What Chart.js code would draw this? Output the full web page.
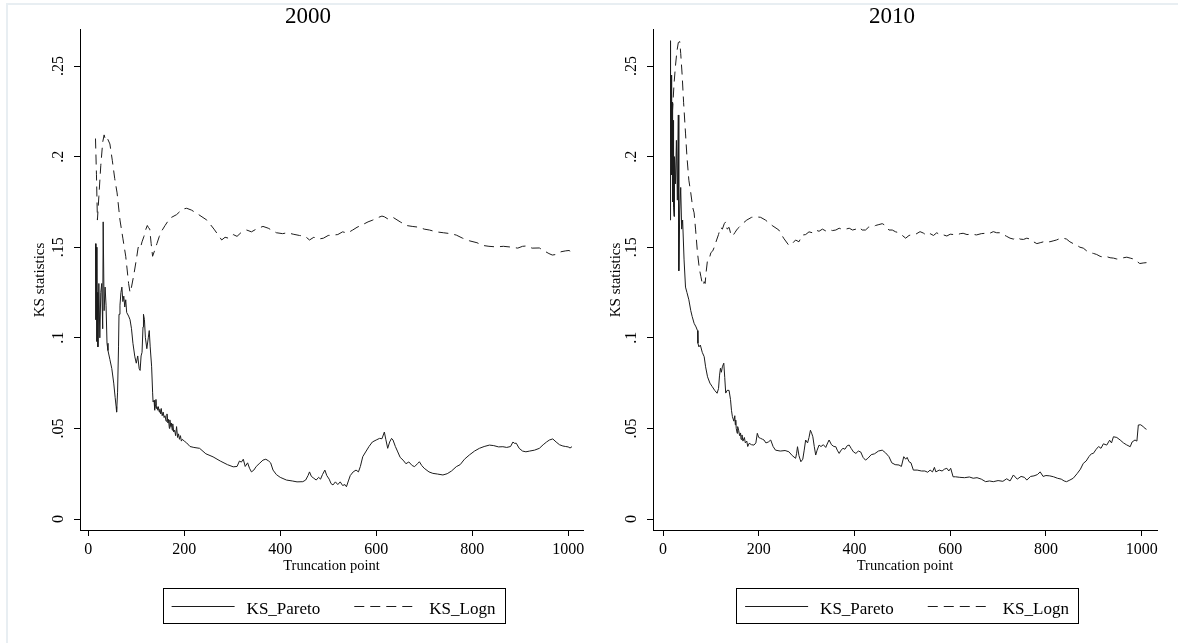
<!DOCTYPE html>
<html><head><meta charset="utf-8">
<script src="https://cdn.jsdelivr.net/npm/chart.js@4.4.1/dist/chart.umd.min.js"></script>
<style>
html,body{margin:0;padding:0;background:#fff;width:1178px;height:643px;overflow:hidden;}
#frame{position:absolute;left:6px;top:3px;width:1172px;height:640px;border-top:2px solid #e8eef2;border-left:2px solid #e8eef2;box-sizing:border-box;}
canvas{position:absolute;top:0;}
#c1{left:0px} #c2{left:589px}
</style></head><body>
<div id="frame"></div>
<canvas id="c1" width="589" height="643"></canvas>
<canvas id="c2" width="589" height="643"></canvas>
<script>
// ---------- data (truncation point, KS statistic) ----------
const panelTitles = ['2000', '2010'];
const seriesNames = ['KS_Pareto', 'KS_Logn'];
const xTicks = [0, 200, 400, 600, 800, 1000];
const xTickLabels = ['0', '200', '400', '600', '800', '1000'];
const yTicks = [0, 0.05, 0.1, 0.15, 0.2, 0.25];
const yTickLabels = ['0', '.05', '.1', '.15', '.2', '.25'];

const pareto2000 = [[15,0.152],[16,0.110],[17,0.150],[18,0.098],[19,0.125],[20,0.095],[22,0.130],[24,0.100],[26,0.125],[28,0.130],[30,0.105],[31,0.164],[33,0.115],[35,0.128],[37,0.118],[39,0.097],[41,0.093],[45,0.088],[49,0.083],[53,0.075],[56,0.067],[58,0.062],[59,0.059],[61,0.070],[63,0.095],[64,0.113],[66,0.118],[68,0.125],[70,0.128],[72,0.120],[74,0.123],[76,0.117],[78,0.121],[80,0.114],[84,0.112],[87,0.110],[90,0.105],[93,0.097],[97,0.0895],[100,0.086],[103,0.090],[106,0.083],[108,0.082],[110,0.090],[112,0.092],[114,0.106],[115,0.113],[117,0.110],[119,0.100],[122,0.094],[125,0.100],[127,0.104],[129,0.095],[132,0.084],[134,0.070],[135,0.0646],[137,0.0655],[138,0.060],[139,0.061],[140,0.063],[141,0.066],[142,0.061],[143,0.062],[145,0.060],[146,0.062],[148,0.059],[149,0.0605],[151,0.058],[152,0.061],[154,0.057],[156,0.059],[158,0.056],[160,0.057],[162,0.054],[164,0.058],[166,0.053],[167,0.055],[169,0.050],[170,0.0547],[172,0.051],[173,0.053],[175,0.049],[176,0.0525],[178,0.048],[180,0.049],[182,0.046],[184,0.051],[186,0.045],[188,0.047],[190,0.044],[192,0.046],[194,0.043],[196,0.044],[200,0.043],[205,0.042],[212,0.040],[220,0.0395],[232,0.039],[245,0.036],[260,0.0343],[275,0.032],[290,0.030],[302,0.0288],[310,0.029],[315,0.032],[319,0.0314],[323,0.033],[327,0.029],[332,0.031],[336,0.028],[340,0.026],[345,0.027],[350,0.029],[356,0.0305],[364,0.0325],[370,0.033],[376,0.032],[380,0.031],[385,0.027],[392,0.0245],[400,0.023],[413,0.0215],[425,0.021],[435,0.0205],[447,0.0206],[453,0.0215],[458,0.024],[461,0.026],[465,0.0235],[470,0.0225],[475,0.0215],[480,0.023],[484,0.022],[488,0.0245],[493,0.027],[497,0.024],[502,0.022],[506,0.0195],[510,0.0188],[515,0.0205],[520,0.019],[525,0.0205],[530,0.0185],[535,0.019],[538,0.0178],[542,0.021],[546,0.024],[552,0.026],[558,0.027],[563,0.026],[567,0.029],[572,0.0344],[578,0.037],[585,0.040],[592,0.0425],[600,0.0436],[607,0.0445],[612,0.0443],[617,0.048],[620,0.044],[624,0.039],[628,0.0425],[632,0.0445],[635,0.0436],[640,0.040],[645,0.037],[650,0.034],[656,0.0325],[662,0.0305],[668,0.0315],[675,0.0295],[680,0.0289],[686,0.0305],[690,0.0316],[695,0.0295],[700,0.028],[710,0.026],[718,0.0252],[728,0.0248],[739,0.0243],[748,0.025],[757,0.0265],[767,0.0289],[775,0.030],[784,0.033],[794,0.0353],[805,0.0375],[815,0.039],[825,0.040],[836,0.0408],[845,0.0405],[855,0.0398],[864,0.0399],[872,0.0395],[880,0.040],[885,0.0425],[888,0.0418],[892,0.0418],[898,0.039],[905,0.0375],[912,0.0371],[920,0.0375],[930,0.038],[940,0.039],[948,0.041],[955,0.0425],[961,0.0436],[968,0.0442],[975,0.0425],[982,0.041],[989,0.0403],[995,0.040],[1000,0.0398],[1004,0.0392],[1008,0.0399]];

const logn2000 = [[15,0.210],[17,0.190],[19,0.165],[22,0.178],[26,0.195],[30,0.208],[33,0.212],[36,0.209],[40,0.210],[45,0.207],[50,0.198],[55,0.188],[60,0.180],[66,0.165],[72,0.155],[78,0.145],[84,0.130],[87,0.125],[90,0.128],[95,0.135],[100,0.143],[104,0.150],[108,0.149],[112,0.153],[116,0.156],[120,0.160],[123,0.162],[125,0.161],[128,0.160],[131,0.152],[134,0.145],[138,0.148],[143,0.152],[148,0.156],[153,0.159],[160,0.162],[170,0.166],[184,0.168],[196,0.171],[205,0.1715],[215,0.1705],[230,0.168],[247,0.165],[262,0.160],[278,0.154],[285,0.1555],[292,0.155],[302,0.157],[310,0.156],[318,0.158],[330,0.1595],[340,0.1585],[350,0.160],[364,0.1615],[375,0.1605],[392,0.158],[405,0.1575],[415,0.158],[427,0.1572],[440,0.1565],[452,0.156],[461,0.154],[470,0.1555],[480,0.1545],[490,0.155],[500,0.1565],[510,0.1567],[520,0.157],[530,0.1585],[540,0.1578],[551,0.1595],[560,0.161],[572,0.1625],[583,0.164],[593,0.165],[605,0.1665],[612,0.1672],[617,0.1668],[625,0.1655],[635,0.1665],[650,0.164],[663,0.162],[675,0.1615],[690,0.161],[700,0.160],[711,0.1595],[725,0.1585],[740,0.158],[755,0.1575],[767,0.1567],[780,0.155],[795,0.1535],[810,0.1525],[822,0.151],[835,0.1505],[850,0.1502],[865,0.1505],[884,0.150],[895,0.1495],[905,0.1505],[913,0.1507],[925,0.1495],[940,0.1496],[950,0.148],[960,0.1465],[967,0.1457],[975,0.146],[985,0.1475],[995,0.148],[1002,0.1482],[1009,0.147]];

const pareto2010 = [[15,0.165],[15.5,0.264],[16,0.200],[17,0.245],[18,0.190],[19,0.230],[20,0.175],[21,0.220],[22,0.172],[23,0.167],[24,0.200],[26,0.185],[28,0.209],[30,0.176],[32,0.223],[33,0.137],[35,0.170],[37,0.183],[39,0.160],[41,0.165],[44,0.143],[47,0.128],[50,0.125],[54,0.121],[58,0.115],[61,0.1117],[65,0.108],[69,0.106],[72,0.104],[73,0.097],[75,0.095],[78,0.096],[82,0.092],[86,0.0896],[89,0.084],[93,0.0785],[98,0.075],[103,0.073],[108,0.071],[113,0.0694],[116,0.072],[118,0.079],[120,0.0832],[122,0.081],[124,0.084],[127,0.086],[129,0.078],[131,0.0695],[134,0.071],[138,0.071],[141,0.066],[143,0.060],[145,0.0565],[148,0.054],[150,0.057],[151,0.052],[152,0.0546],[153,0.050],[155,0.0473],[156,0.051],[158,0.049],[160,0.046],[162,0.0475],[163,0.044],[165,0.0464],[167,0.043],[170,0.045],[172,0.042],[175,0.043],[177,0.040],[180,0.0418],[185,0.041],[190,0.0408],[194,0.042],[197,0.0473],[200,0.045],[204,0.0445],[208,0.044],[211,0.0436],[215,0.042],[220,0.0425],[225,0.0436],[230,0.040],[235,0.038],[245,0.0375],[255,0.0378],[263,0.0371],[270,0.035],[277,0.0335],[279,0.036],[281,0.0399],[284,0.035],[288,0.0316],[292,0.033],[295,0.038],[298,0.0436],[302,0.042],[305,0.045],[308,0.049],[311,0.047],[313,0.0454],[316,0.040],[319,0.0353],[322,0.038],[326,0.0408],[330,0.040],[335,0.041],[340,0.0395],[344,0.042],[347,0.0436],[352,0.041],[357,0.040],[361,0.0399],[364,0.038],[368,0.0362],[372,0.038],[376,0.039],[380,0.0385],[385,0.0405],[389,0.0408],[393,0.039],[398,0.037],[403,0.0362],[408,0.0375],[413,0.037],[418,0.034],[423,0.0325],[428,0.0335],[435,0.0355],[442,0.036],[450,0.0375],[458,0.038],[465,0.0365],[472,0.0344],[478,0.031],[485,0.030],[493,0.0298],[498,0.029],[503,0.0344],[507,0.033],[510,0.034],[514,0.0316],[518,0.031],[523,0.027],[531,0.027],[540,0.0265],[547,0.0265],[553,0.0258],[558,0.027],[563,0.026],[567,0.0285],[570,0.026],[577,0.027],[583,0.0265],[588,0.0275],[593,0.028],[597,0.0265],[601,0.028],[606,0.0233],[611,0.0233],[620,0.023],[630,0.0228],[640,0.0232],[648,0.0225],[656,0.0228],[665,0.022],[674,0.0206],[682,0.021],[690,0.0206],[700,0.0212],[710,0.0208],[718,0.0222],[725,0.021],[732,0.0243],[740,0.022],[748,0.0235],[755,0.023],[760,0.0215],[768,0.0235],[775,0.0238],[782,0.0245],[788,0.026],[794,0.0235],[800,0.024],[808,0.0238],[816,0.0233],[824,0.0225],[832,0.022],[838,0.021],[843,0.0206],[850,0.0215],[857,0.0225],[865,0.025],[872,0.0275],[878,0.0307],[884,0.032],[890,0.0345],[895,0.036],[899,0.0362],[905,0.0385],[910,0.040],[915,0.039],[920,0.0415],[927,0.0408],[933,0.0435],[937,0.042],[941,0.0454],[948,0.045],[955,0.0436],[962,0.042],[968,0.041],[976,0.0399],[980,0.0425],[986,0.0436],[990,0.043],[993,0.0519],[998,0.052],[1003,0.051],[1007,0.050],[1010,0.0495]];

const logn2010 = [[18,0.215],[20,0.226],[23,0.240],[26,0.250],[29,0.258],[32,0.263],[35,0.2635],[37,0.257],[40,0.245],[43,0.230],[47,0.213],[50,0.200],[54,0.187],[58,0.180],[62,0.172],[65,0.169],[68,0.160],[72,0.147],[76,0.138],[79,0.134],[82,0.130],[84,0.129],[86,0.131],[88,0.130],[90,0.136],[93,0.143],[97,0.144],[100,0.147],[104,0.148],[107,0.150],[112,0.154],[116,0.157],[120,0.161],[124,0.160],[128,0.163],[131,0.164],[134,0.160],[138,0.161],[141,0.158],[145,0.156],[150,0.158],[155,0.160],[159,0.161],[166,0.163],[175,0.165],[185,0.1665],[194,0.1668],[204,0.1665],[214,0.165],[228,0.162],[242,0.1595],[252,0.155],[263,0.151],[270,0.152],[277,0.154],[284,0.153],[291,0.1567],[298,0.157],[305,0.1585],[312,0.158],[319,0.1595],[326,0.1588],[333,0.160],[340,0.159],[347,0.1598],[354,0.1592],[361,0.1595],[368,0.1605],[375,0.1598],[382,0.160],[389,0.1605],[396,0.1595],[403,0.160],[410,0.161],[416,0.1595],[423,0.1595],[430,0.1612],[437,0.161],[444,0.162],[451,0.1625],[458,0.163],[465,0.162],[472,0.1595],[479,0.1595],[486,0.1585],[493,0.158],[500,0.1565],[507,0.155],[514,0.1565],[521,0.157],[528,0.1572],[537,0.1586],[544,0.1578],[551,0.1565],[558,0.1575],[565,0.1565],[572,0.158],[579,0.1567],[586,0.1568],[593,0.1562],[600,0.1572],[607,0.157],[614,0.1568],[621,0.1575],[627,0.1577],[635,0.157],[645,0.1572],[655,0.1568],[665,0.1575],[674,0.1577],[681,0.1575],[690,0.1586],[697,0.158],[704,0.158],[711,0.157],[718,0.156],[725,0.155],[732,0.1545],[739,0.1555],[746,0.1545],[753,0.1543],[760,0.155],[767,0.1545],[774,0.153],[781,0.152],[788,0.1525],[795,0.153],[802,0.1535],[808,0.153],[815,0.1535],[822,0.154],[829,0.1548],[836,0.155],[843,0.1545],[850,0.153],[857,0.152],[864,0.1512],[871,0.150],[878,0.1495],[885,0.148],[892,0.147],[899,0.1466],[906,0.146],[913,0.145],[920,0.1445],[927,0.1448],[934,0.1442],[941,0.144],[948,0.1435],[955,0.1435],[962,0.1442],[969,0.1445],[976,0.144],[983,0.1435],[990,0.1422],[996,0.141],[1003,0.1413],[1010,0.1415]];

// ---------- rendering ----------
const SERIF = '"Liberation Serif", "Times New Roman", serif';
const INK = '#1c1c1c';

// shifts the title horizontally (Stata centres it over the whole plot region)
const titleShift = {
  id: 'titleShift',
  afterLayout(chart, args, o) {
    const tb = chart.titleBlock;
    if (tb && o.dx) { tb.left += o.dx; tb.right += o.dx; }
  }
};

const boxLegend = {
  id: 'boxLegend',
  afterDraw(chart, args, o) {
    const ctx = chart.ctx, ca = chart.chartArea;
    ctx.save();
    ctx.font = '17px ' + SERIF;
    const items = chart.data.datasets.map(ds => ({
      label: ds.label, dash: ds.borderDash || [], color: ds.borderColor,
      tw: ctx.measureText(ds.label).width
    }));
    let total = 0;
    items.forEach((it, i) => { total += o.lineW + o.gapText + it.tw + (i ? o.gapItem : 0); });
    const cx = (ca.left + ca.right) / 2 + o.dx;
    const bx = Math.round(cx - o.boxW / 2) + 0.5;
    ctx.strokeStyle = '#000'; ctx.lineWidth = 1; ctx.setLineDash([]);
    ctx.strokeRect(bx, o.top + 0.5, o.boxW, o.height);
    let x = cx - total / 2;
    const ly = Math.round(o.top + o.height / 2) + 0.5;
    items.forEach(it => {
      ctx.beginPath();
      ctx.setLineDash(it.dash);
      ctx.strokeStyle = it.color;
      ctx.lineWidth = 1;
      ctx.moveTo(x, ly); ctx.lineTo(x + o.lineW, ly); ctx.stroke();
      ctx.setLineDash([]);
      x += o.lineW + o.gapText;
      ctx.fillStyle = '#000';
      ctx.textBaseline = 'alphabetic'; ctx.textAlign = 'left';
      ctx.fillText(it.label, x, o.textBase);
      x += it.tw + o.gapItem;
    });
    ctx.restore();
  }
};

function makeChart(id, title, pareto, logn, cfg) {
  const toPts = arr => arr.map(p => ({ x: p[0], y: p[1] }));
  const lookup = (ticks, labels, v) => {
    const i = ticks.findIndex(t => Math.abs(t - v) < 1e-9);
    return i >= 0 ? labels[i] : '';
  };
  return new Chart(document.getElementById(id), {
    type: 'line',
    data: {
      datasets: [
        { label: seriesNames[0], data: toPts(pareto), borderColor: INK, borderWidth: 1,
          pointRadius: 0, tension: 0, fill: false },
        { label: seriesNames[1], data: toPts(logn), borderColor: INK, borderWidth: 1,
          borderDash: [10, 6], pointRadius: 0, tension: 0, fill: false }
      ]
    },
    options: {
      responsive: false, animation: false, devicePixelRatio: 1,
      layout: { padding: { left: cfg.padL, right: cfg.padR, top: 0, bottom: 65 } },
      plugins: {
        legend: { display: false },
        tooltip: { enabled: false },
        title: { display: true, text: title, color: '#000',
                 font: { family: SERIF, size: 23, weight: 'normal' },
                 padding: { top: 3, bottom: -0.6 } },
        titleShift: { dx: cfg.titleDx },
        boxLegend: { lineW: 63, gapText: 12, gapItem: 34, boxW: 342, dx: 2,
                     top: 588, height: 35, textBase: 614 }
      },
      scales: {
        x: {
          type: 'linear', min: cfg.xMin, max: cfg.xMax,
          afterBuildTicks: s => { s.ticks = xTicks.map(v => ({ value: v })); },
          afterFit: s => { s.height = 48; },
          grid: { drawOnChartArea: false, drawTicks: true, tickLength: 6, color: '#000' },
          border: { display: true, color: '#000', width: 1 },
          ticks: { font: { family: SERIF, size: 16 }, color: '#000', padding: 4,
                   maxRotation: 0, autoSkip: false,
                   callback: v => lookup(xTicks, xTickLabels, v) },
          title: { display: true, text: 'Truncation point', color: '#000',
                   font: { family: SERIF, size: 14.5 }, padding: { top: 0, bottom: 3 } }
        },
        y: {
          type: 'linear', min: -0.00607, max: 0.2699,
          afterBuildTicks: s => { s.ticks = yTicks.map(v => ({ value: v })); },
          afterFit: s => { s.width = cfg.yW; },
          grid: { drawOnChartArea: false, drawTicks: true, tickLength: 6, color: '#000' },
          border: { display: true, color: '#000', width: 1 },
          ticks: { font: { family: SERIF, size: 16 }, color: '#000', padding: 5,
                   minRotation: 90, maxRotation: 90, crossAlign: 'center',
                   callback: v => lookup(yTicks, yTickLabels, v) },
          title: { display: true, text: 'KS statistics', color: '#000',
                   font: { family: SERIF, size: 15 }, padding: { top: cfg.yTitlePad, bottom: 0 } }
        }
      }
    },
    plugins: [boxLegend, titleShift]
  });
}

makeChart('c1', panelTitles[0], pareto2000, logn2000,
  { padL: 33, padR: 6, yW: 47, yTitlePad: -2, titleDx: 0, xMin: -17.3, xMax: 1031 });
makeChart('c2', panelTitles[1], pareto2010, logn2010,
  { padL: 14, padR: 21, yW: 50, yTitlePad: 4, titleDx: 12, xMin: -20.9, xMax: 1032 });
</script>
</body></html>
